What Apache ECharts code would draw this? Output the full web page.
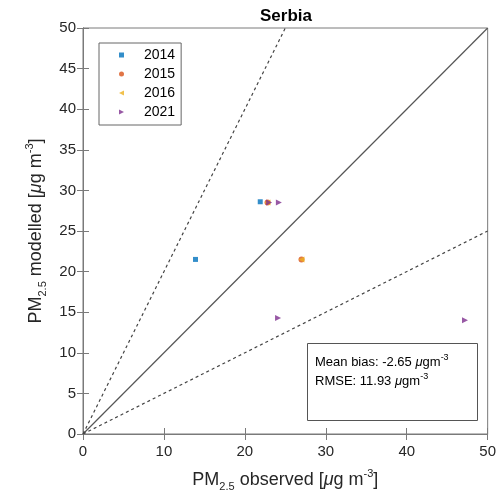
<!DOCTYPE html>
<html><head><meta charset="utf-8">
<script src="https://cdn.jsdelivr.net/npm/echarts@6/dist/echarts.min.js"></script>
<style>html,body{margin:0;padding:0;background:#fff}#c{width:499px;height:497px}</style>
</head><body><div id="c"></div>
<script>
const title = 'Serbia';
const xTicks = [0, 10, 20, 30, 40, 50];
const yTicks = [0, 5, 10, 15, 20, 25, 30, 35, 40, 45, 50];
const years = ['2014', '2015', '2016', '2021'];
const data2014 = [[21.9, 28.6], [13.9, 21.5]];
const data2015 = [[22.8, 28.5], [27.0, 21.5]];
const data2016 = [[22.8, 28.5], [27.0, 21.5]];
const data2021 = [[23.0, 28.5], [24.2, 28.5], [24.1, 14.3], [47.2, 14.0]];
const line11 = [[0, 0], [50, 50]];
const line12 = [[0, 0], [25, 50]];
const line21 = [[0, 0], [50, 25]];
const statsText = ['Mean bias: -2.65', 'RMSE: 11.93'];

const colors = ['#0072BD', '#D95319', '#EDB120', '#7E2F8E'];
const font = 'Liberation Sans, Arial, sans-serif';
const chart = echarts.init(document.getElementById('c'));
const axisGray = '#7a7a7a';
const textCol = '#262626';
const nameRich = {
  n: {fontSize: 18, color: textCol, fontFamily: font, lineHeight: 24},
  sub: {fontSize: 11, color: textCol, fontFamily: font, verticalAlign: 'bottom', lineHeight: 8},
  sup: {fontSize: 11, color: textCol, fontFamily: font, verticalAlign: 'top', lineHeight: 10},
  i: {fontSize: 18, color: textCol, fontFamily: font, fontStyle: 'italic', lineHeight: 24}
};
const refLine = (d, type) => ({
  type: 'line', data: d, xAxisIndex: 0, yAxisIndex: 0, symbol: 'none', silent: true,
  lineStyle: {color: type === 'solid' ? '#555' : '#444', width: 1.2, type: type === 'solid' ? 'solid' : [3, 3]},
  z: 1
});
const triLeft = 'path://M10,0 L0,5 L10,10 Z';
const triRight = 'path://M0,0 L10,5 L0,10 Z';
const option = {
  animation: false,
  title: {text: title, left: 286, top: 8, textAlign: 'center', padding: 0,
    textStyle: {fontFamily: font, fontSize: 17, fontWeight: 'bold', color: '#000'}},
  grid: {left: 83, right: 10, top: 28, bottom: 63, show: true, borderColor: axisGray, borderWidth: 1},
  legend: {
    left: 99, top: 43, orient: 'vertical', data: years, itemWidth: 5, itemHeight: 5, itemGap: 5,
    padding: [5, 6, 6, 20], borderColor: '#666', borderWidth: 1, backgroundColor: '#fff',
    textStyle: {fontFamily: font, fontSize: 14, color: '#000', padding: [0, 0, 0, 15], lineHeight: 14}
  },
  xAxis: [
    {type: 'value', min: 0, max: 50, interval: 10, position: 'bottom',
      name: '{n|PM}{sub|2.5}{n| observed [}{i|μ}{n|g m}{sup|-3}{n|]}',
      nameLocation: 'middle', nameGap: 34, nameTextStyle: {rich: nameRich},
      axisLine: {lineStyle: {color: axisGray}}, axisTick: {inside: true, length: 6, lineStyle: {color: axisGray}},
      axisLabel: {fontFamily: font, fontSize: 15, color: textCol, margin: 10,
        formatter: v => xTicks.includes(v) ? String(v) : ''},
      splitLine: {show: false}},
    {type: 'value', min: 0, max: 50, interval: 10, position: 'top',
      axisLine: {lineStyle: {color: axisGray}}, axisTick: {inside: true, length: 6, lineStyle: {color: axisGray}},
      axisLabel: {show: false}, splitLine: {show: false}}
  ],
  yAxis: [
    {type: 'value', min: 0, max: 50, interval: 5, position: 'left',
      name: '{n|PM}{sub|2.5}{n| modelled [}{i|μ}{n|g m}{sup|-3}{n|]}',
      nameLocation: 'middle', nameGap: 29, nameRotate: 90, nameTextStyle: {rich: nameRich},
      axisLine: {lineStyle: {color: axisGray}}, axisTick: {inside: true, length: 6, lineStyle: {color: axisGray}},
      axisLabel: {fontFamily: font, fontSize: 15, color: textCol, margin: 7,
        formatter: v => yTicks.includes(v) ? String(v) : ''},
      splitLine: {show: false}},
    {type: 'value', min: 0, max: 50, interval: 5, position: 'right',
      axisLine: {lineStyle: {color: axisGray}}, axisTick: {inside: true, length: 6, lineStyle: {color: axisGray}},
      axisLabel: {show: false}, splitLine: {show: false}}
  ],
  series: [
    refLine(line11, 'solid'), refLine(line12, 'dashed'), refLine(line21, 'dashed'),
    {name: years[0], type: 'scatter', data: data2014, symbol: 'rect', symbolSize: 5, itemStyle: {color: colors[0]}, z: 3},
    {name: years[1], type: 'scatter', data: data2015, symbol: 'circle', symbolSize: 6, itemStyle: {color: colors[1]}, z: 4},
    {name: years[2], type: 'scatter', data: data2016, symbol: triLeft, symbolSize: 6, itemStyle: {color: colors[2]}, z: 5},
    {name: years[3], type: 'scatter', data: data2021, symbol: triRight, symbolSize: 6, itemStyle: {color: colors[3]}, z: 6}
  ],
  graphic: [
    {type: 'rect', left: 307, top: 343, shape: {width: 170, height: 77},
      style: {fill: '#fff', stroke: '#555', lineWidth: 1}, z: 10},
    {type: 'text', left: 315, top: 353, z: 11,
      style: {
        text: '{n|' + statsText[0] + ' }{i|μ}{n|gm}{sup|-3}\n{n|' + statsText[1] + ' }{i|μ}{n|gm}{sup|-3}',
        rich: {
          n: {fontSize: 13, fontFamily: font, fill: '#000', lineHeight: 19},
          i: {fontSize: 13, fontFamily: font, fontStyle: 'italic', fill: '#000', lineHeight: 19},
          sup: {fontSize: 9, fontFamily: font, fill: '#000', verticalAlign: 'top', lineHeight: 9}
        }
      }}
  ]
};
chart.setOption(option);
</script></body></html>
